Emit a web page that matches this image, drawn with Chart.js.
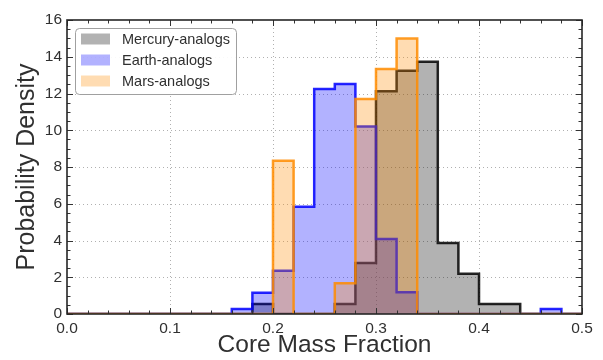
<!DOCTYPE html>
<html><head><meta charset="utf-8">
<script src="https://cdn.jsdelivr.net/npm/chart.js@4/dist/chart.umd.min.js"></script>
<style>html,body{margin:0;padding:0;background:#fff;}#wrap{width:603px;height:360px;position:relative;}</style>
</head><body><div id="wrap"><canvas id="c"></canvas></div>
<script>
// Histogram bins (left edges), width 0.02
const binEdges = [0.00,0.02,0.04,0.06,0.08,0.10,0.12,0.14,0.16,0.18,0.20,0.22,0.24,0.26,0.28,0.30,0.32,0.34,0.36,0.38,0.40,0.42,0.44,0.46,0.48];
const binWidth = 0.02;
const mercury = [0,0,0,0,0,0,0,0,0,0.54,0,0,0,0.54,2.78,12.12,13.24,13.73,3.87,2.19,0.54,0.54,0,0,0];
const earth   = [0,0,0,0,0,0,0,0,0.27,1.16,2.36,5.84,12.24,12.52,10.2,4.08,1.18,0,0,0,0,0,0,0.27,0];
const mars    = [0,0,0,0,0,0,0,0,0,0,8.34,0,0,1.67,11.7,13.33,15.0,0,0,0,0,0,0,0,0];
const seriesLabels = ['Mercury-analogs','Earth-analogs','Mars-analogs'];
const xTickValues = [0.0,0.1,0.2,0.3,0.4,0.5];
const yTickValues = [0,2,4,6,8,10,12,14,16];

function stepPoints(arr){
  const pts=[{x:binEdges[0],y:0}];
  arr.forEach((v,i)=>pts.push({x:binEdges[i],y:v}));
  const end=binEdges[binEdges.length-1]+binWidth;
  pts.push({x:end,y:arr[arr.length-1]});
  pts.push({x:end,y:0});
  return pts;
}
const FONT='"Liberation Sans", Arial, sans-serif';
const TXT='#303030';
const styles=[
  {fill:'rgba(0,0,0,0.3)',edge:'rgba(0,0,0,0.85)'},
  {fill:'rgba(0,0,255,0.3)',edge:'rgba(0,0,255,0.85)'},
  {fill:'rgba(255,140,0,0.3)',edge:'rgba(255,140,0,0.85)'}
];
const seriesData=[mercury,earth,mars];
const datasets=seriesData.map((arr,k)=>({
  label:seriesLabels[k],
  data:stepPoints(arr),
  stepped:'before',
  fill:'origin',
  backgroundColor:styles[k].fill,
  borderColor:styles[k].edge,
  borderWidth:2.5,
  pointRadius:0,
  order:3-k
}));

const decor={
  id:'decor',
  beforeDatasetsDraw(chart){
    const {ctx,chartArea:a,scales:{x,y}}=chart;
    ctx.save();
    ctx.strokeStyle='#b0b0b0';ctx.lineWidth=1;ctx.setLineDash([1,3]);
    xTickValues.forEach(v=>{
      const p=Math.round(x.getPixelForValue(v))+0.5;
      if(p<=a.left+1||p>=a.right-1)return;
      ctx.beginPath();ctx.moveTo(p,a.top);ctx.lineTo(p,a.bottom);ctx.stroke();
    });
    yTickValues.forEach(v=>{
      const p=Math.round(y.getPixelForValue(v))+0.5;
      if(p<=a.top+1||p>=a.bottom-1)return;
      ctx.beginPath();ctx.moveTo(a.left,p);ctx.lineTo(a.right,p);ctx.stroke();
    });
    ctx.restore();
  },
  afterDatasetsDraw(chart){
    const {ctx,chartArea:a,scales:{x,y}}=chart;
    ctx.save();
    ctx.strokeStyle='#333';ctx.lineWidth=1;
    for(let i=0;i<=25;i++){
      const v=i*0.02;const p=Math.round(x.getPixelForValue(v))+0.5;
      const L=(i%5===0)?6:3.5;
      ctx.beginPath();ctx.moveTo(p,a.bottom);ctx.lineTo(p,a.bottom-L);ctx.moveTo(p,a.top);ctx.lineTo(p,a.top+L);ctx.stroke();
    }
    for(let i=0;i<=32;i++){
      const v=i*0.5;const p=Math.round(y.getPixelForValue(v))+0.5;
      const L=(i%4===0)?6:3.5;
      ctx.beginPath();ctx.moveTo(a.left,p);ctx.lineTo(a.left+L,p);ctx.moveTo(a.right,p);ctx.lineTo(a.right-L,p);ctx.stroke();
    }
    ctx.strokeStyle='#262626';ctx.lineWidth=1.6;
    ctx.strokeRect(a.left,a.top,a.right-a.left,a.bottom-a.top);
    ctx.restore();
  },
  afterDraw(chart){
    const ctx=chart.ctx;
    ctx.save();
    const bx=75.5,by=28.5,bw=161,bh=66,r=4;
    ctx.beginPath();
    ctx.moveTo(bx+r,by);ctx.lineTo(bx+bw-r,by);ctx.arcTo(bx+bw,by,bx+bw,by+r,r);
    ctx.lineTo(bx+bw,by+bh-r);ctx.arcTo(bx+bw,by+bh,bx+bw-r,by+bh,r);
    ctx.lineTo(bx+r,by+bh);ctx.arcTo(bx,by+bh,bx,by+bh-r,r);
    ctx.lineTo(bx,by+r);ctx.arcTo(bx,by,bx+r,by,r);ctx.closePath();
    ctx.fillStyle='rgba(255,255,255,0.92)';ctx.fill();
    ctx.strokeStyle='#a0a0a0';ctx.lineWidth=1;ctx.stroke();
    ctx.font='14.5px '+FONT;ctx.textBaseline='middle';ctx.fillStyle=TXT;
    chart.data.datasets.forEach((ds,k)=>{
      const cy=39+21*k;
      ctx.fillStyle=ds.backgroundColor;ctx.fillRect(81,cy-5.5,29,11);
      ctx.fillStyle=TXT;ctx.fillText(ds.label,122,cy+0.5);
    });
    ctx.restore();
  }
};

new Chart(document.getElementById('c'),{
  type:'line',
  data:{datasets},
  options:{
    responsive:true,maintainAspectRatio:false,animation:false,
    layout:{padding:{top:20,right:21,left:0,bottom:0}},
    plugins:{legend:{display:false},tooltip:{enabled:false}},
    scales:{
      x:{type:'linear',min:0,max:0.5,
        afterBuildTicks(s){s.ticks=xTickValues.map(v=>({value:v}));},
        ticks:{callback:v=>Number(v).toFixed(1),font:{size:15.5,family:FONT},color:TXT,padding:5,maxRotation:0,autoSkip:false},
        grid:{display:false,drawTicks:false},border:{display:false},
        title:{display:true,text:'Core Mass Fraction',font:{size:24.5,family:FONT},color:TXT,padding:{top:0,bottom:0}},
        afterFit(s){s.height=46;}
      },
      y:{min:0,max:16,
        afterBuildTicks(s){s.ticks=yTickValues.map(v=>({value:v}));},
        ticks:{font:{size:15.5,family:FONT},color:TXT,padding:5},
        grid:{display:false,drawTicks:false},border:{display:false},
        title:{display:true,text:'Probability Density',font:{size:25,family:FONT},color:TXT,padding:{top:12,bottom:0}},
        afterFit(s){s.width=67;}
      }
    }
  },
  plugins:[decor]
});
</script></body></html>
